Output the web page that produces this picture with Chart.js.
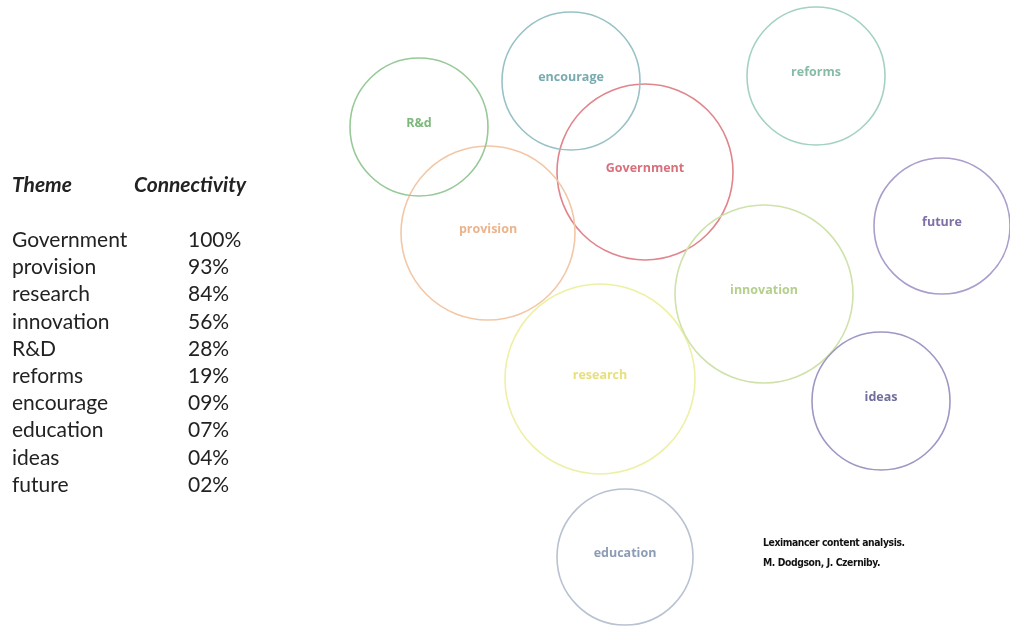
<!DOCTYPE html>
<html>
<head>
<meta charset="utf-8">
<script src="https://cdn.jsdelivr.net/npm/chart.js@4"></script>
<style>
  html, body { margin: 0; padding: 0; background: #fff; }
  #wrap { position: relative; width: 1010px; height: 627px; }
  #chart { position: absolute; left: 0; top: 0; }
  .tbl { position: absolute; font-family: Lato, "Open Sans", sans-serif; font-size: 21px; line-height: 24px; color: #222; }
  .hd { font-weight: bold; font-style: italic; }
  .note { position: absolute; left: 763px; top: 532px; font-family: "Liberation Sans Narrow", "DejaVu Sans Condensed", sans-serif; font-weight: bold; font-size: 10.3px; line-height: 20px; color: #111; letter-spacing: -0.4px; }
</style>
</head>
<body>
<div id="wrap">
  <canvas id="chart" width="1010" height="627"></canvas>
  <div id="table"></div>
  <div class="note">Leximancer content analysis.<br>M. Dodgson, J. Czerniby.</div>
</div>
<script>
// Theme table
const themes = ['Government', 'provision', 'research', 'innovation', 'R&D', 'reforms', 'encourage', 'education', 'ideas', 'future'];
const connectivity = ['100%', '93%', '84%', '56%', '28%', '19%', '09%', '07%', '04%', '02%'];

// Bubble map (concept circles)
const bubbleLabels = ['Government', 'provision', 'research', 'innovation', 'R&d', 'reforms', 'encourage', 'education', 'ideas', 'future'];
const bubbleX = [645, 488, 600, 764, 419, 816, 571, 625, 881, 942];
const bubbleY = [172, 233, 379, 294, 127, 76, 81, 557, 401, 226];
const bubbleR = [88, 87, 95, 89, 69, 69, 69, 68, 69, 68];
const strokeColors = ['#e0858c', '#f2c7a6', '#eef0a4', '#cfe2aa', '#98c998', '#a4d2c2', '#98c2c6', '#b8c2d2', '#9c98c4', '#ab9ecb'];
const textColors = ['#d8707c', '#eab48c', '#e6e07e', '#b4d08c', '#7cb87c', '#86bca6', '#78aab0', '#8c9cb6', '#706e9c', '#7f6fa6'];

// left table as text
const tbl = document.getElementById('table');
function addText(txt, x, y, cls) {
    const d = document.createElement('div');
    d.className = 'tbl ' + (cls || '');
    d.style.left = x + 'px';
    d.style.top = y + 'px';
    d.textContent = txt;
    tbl.appendChild(d);
}
addText('Theme', 12, 172, 'hd');
addText('Connectivity', 134, 172, 'hd');
themes.forEach((t, i) => {
    addText(t, 12, 227 + i * 27.2);
    addText(connectivity[i], 188, 227 + i * 27.2);
});

const labelPlugin = {
    id: 'bubbleLabels',
    afterDatasetsDraw(chart) {
        const ctx = chart.ctx;
        const meta = chart.getDatasetMeta(0);
        ctx.save();
        ctx.font = 'bold 12.5px "Open Sans", sans-serif';
        ctx.textAlign = 'center';
        ctx.textBaseline = 'middle';
        meta.data.forEach((el, i) => {
            ctx.fillStyle = textColors[i];
            ctx.fillText(bubbleLabels[i], el.x, el.y - 4);
        });
        ctx.restore();
    }
};

new Chart(document.getElementById('chart').getContext('2d'), {
    type: 'bubble',
    data: {
        datasets: [{
            data: bubbleX.map((x, i) => ({ x: x, y: bubbleY[i], r: bubbleR[i] })),
            borderColor: strokeColors,
            backgroundColor: 'rgba(0,0,0,0)',
            borderWidth: 1.6,
            clip: false
        }]
    },
    options: {
        responsive: false,
        animation: false,
        events: [],
        layout: { padding: 0, autoPadding: false },
        plugins: { legend: { display: false }, tooltip: { enabled: false } },
        scales: {
            x: { type: 'linear', min: 0, max: 1010, display: false },
            y: { type: 'linear', min: 0, max: 627, reverse: true, display: false }
        }
    },
    plugins: [labelPlugin]
});
</script>
</body>
</html>
